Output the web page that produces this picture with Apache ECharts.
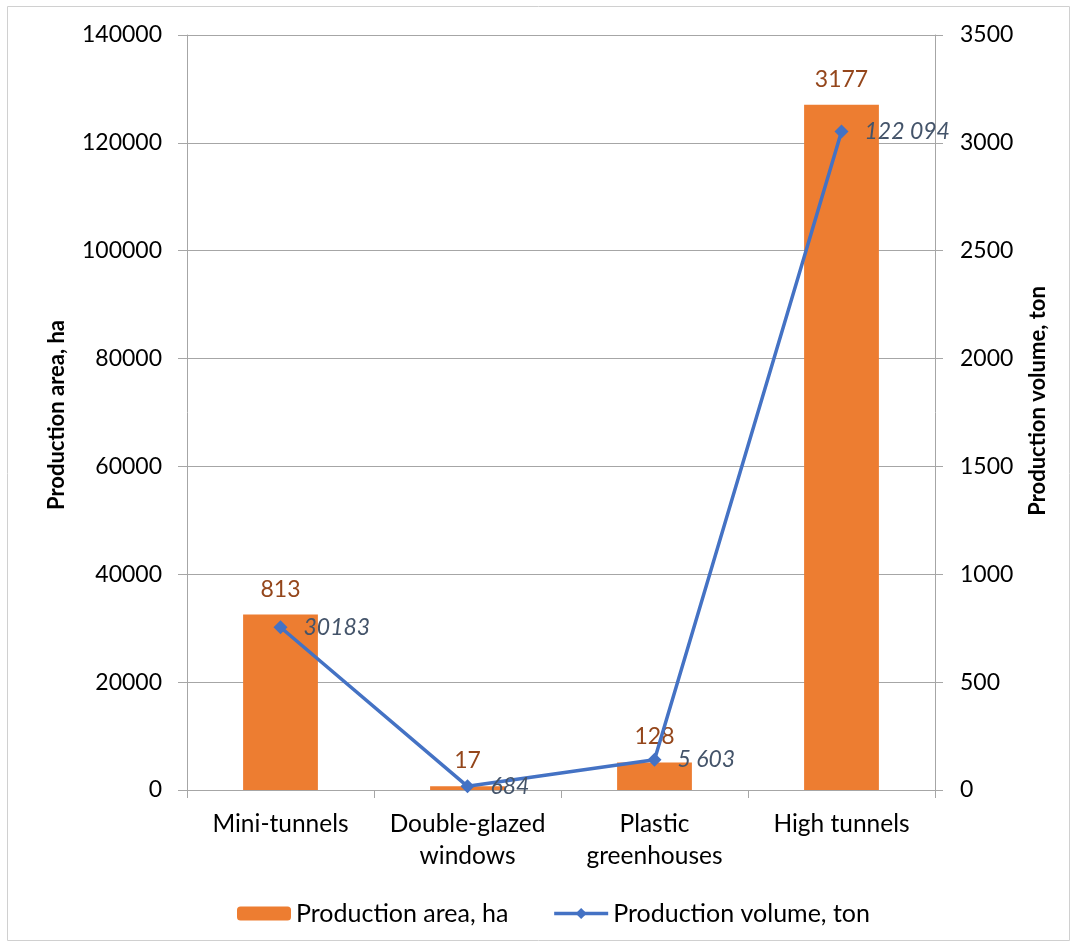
<!DOCTYPE html>
<html>
<head>
<meta charset="utf-8">
<script src="https://cdn.jsdelivr.net/npm/echarts@6/dist/echarts.min.js"></script>
<style>
  html, body { margin: 0; padding: 0; background: #fff; }
  #chart { width: 1076px; height: 946px; }
</style>
</head>
<body>
<div id="chart"></div>
<script>
// Greenhouse / tunnel production data
const categories = ['Mini-tunnels', 'Double-glazed\nwindows', 'Plastic\ngreenhouses', 'High tunnels'];
const areaValues = [813, 17, 128, 3177];               // bars, labelled values
const volumeValues = [30183, 684, 5603, 122094];       // line, labelled values
const volumeLabels = ['30183', '684', '5 603', '122 094'];
const leftTicks = { min: 0, max: 140000, interval: 20000 };
const rightTicks = { min: 0, max: 3500, interval: 500 };
const leftTitle = 'Production area, ha';
const rightTitle = 'Production volume, ton';

const FONT = 'Lato, "Open Sans", sans-serif';
const gridColor = '#a6a6a6';

const chart = echarts.init(document.getElementById('chart'));
chart.setOption({
  animation: false,
  textStyle: { fontFamily: FONT },
  graphic: [{
    type: 'rect',
    shape: { x: 7.5, y: 6.5, width: 1062, height: 934 },
    style: { fill: 'none', stroke: '#d0d0d0', lineWidth: 1 },
    silent: true
  }, {
    type: 'text',
    x: 57, y: 415,
    rotation: Math.PI / 2,
    style: {
      text: leftTitle, fill: '#000',
      font: 'bold 22px ' + FONT,
      align: 'center', verticalAlign: 'middle'
    },
    silent: true
  }, {
    type: 'text',
    x: 1038, y: 401,
    rotation: Math.PI / 2,
    style: {
      text: rightTitle, fill: '#000',
      font: 'bold 22px ' + FONT,
      align: 'center', verticalAlign: 'middle'
    },
    silent: true
  }],
  grid: { left: 187, right: 141, top: 35, bottom: 156 },
  legend: {
    top: 896,
    left: 232,
    itemWidth: 54,
    itemHeight: 14,
    itemGap: 44,
    lineStyle: { width: 3.5 },
    textStyle: { fontFamily: FONT, fontSize: 25, color: '#000' },
    data: ['Production area, ha', 'Production volume, ton']
  },
  xAxis: {
    type: 'category',
    data: categories,
    axisLine: { lineStyle: { color: gridColor, width: 1 } },
    axisTick: { show: true, length: 8, lineStyle: { color: gridColor } },
    axisLabel: { fontFamily: FONT, fontSize: 24.5, color: '#000', margin: 18, lineHeight: 32, interval: 0 }
  },
  yAxis: [{
    type: 'value',
    position: 'left',
    min: leftTicks.min, max: leftTicks.max, interval: leftTicks.interval,
    axisLine: { show: true, lineStyle: { color: gridColor } },
    axisTick: { show: true, length: 9, lineStyle: { color: gridColor } },
    axisLabel: { fontFamily: FONT, fontSize: 23, color: '#000', margin: 25, formatter: v => String(v) },
    splitLine: { show: true, lineStyle: { color: gridColor, width: 1 } }
  }, {
    type: 'value',
    position: 'right',
    min: rightTicks.min, max: rightTicks.max, interval: rightTicks.interval,
    axisLine: { show: true, lineStyle: { color: gridColor } },
    axisTick: { show: true, length: 8, lineStyle: { color: gridColor } },
    axisLabel: { fontFamily: FONT, fontSize: 23, color: '#000', margin: 25, formatter: v => String(v) },
    splitLine: { show: false }
  }],
  series: [{
    name: 'Production area, ha',
    type: 'bar',
    yAxisIndex: 1,
    data: areaValues,
    barWidth: '40%',
    itemStyle: { color: '#ED7D31' },
    label: {
      show: true, position: 'top', distance: 14,
      fontFamily: FONT, fontSize: 23, color: '#94461b'
    }
  }, {
    name: 'Production volume, ton',
    type: 'line',
    yAxisIndex: 0,
    data: volumeValues,
    symbol: 'diamond',
    symbolSize: 14,
    lineStyle: { color: '#4472C4', width: 3.5 },
    itemStyle: { color: '#4472C4' },
    z: 5,
    label: {
      show: true, position: 'right', distance: 16,
      fontFamily: FONT, fontSize: 23, fontStyle: 'italic', color: '#44546A',
      formatter: p => volumeLabels[p.dataIndex]
    }
  }]
});
</script>
</body>
</html>
